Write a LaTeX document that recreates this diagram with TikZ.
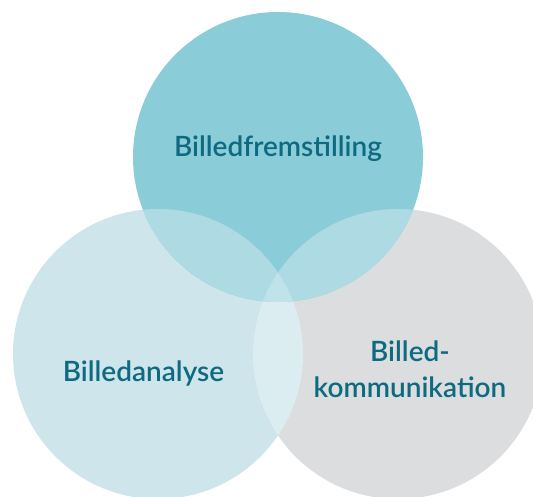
\documentclass[tikz,border=0pt]{standalone}
\usepackage{fontspec}
\setmainfont{Lato}
\newfontfamily\latosb{Lato Semibold}
\definecolor{ctop}{HTML}{8BCCD9}
\definecolor{cleft}{HTML}{CDE5EB}
\definecolor{cright}{HTML}{DCDDDF}
\definecolor{ctl}{HTML}{ADDAE3}
\definecolor{clr}{HTML}{DCEDF1}
\definecolor{cmid}{HTML}{C0E2E9}
\definecolor{ctxt}{HTML}{0E6A80}
\tikzset{lbl/.style={text=ctxt,font=\latosb\fontsize{28}{35.5}\selectfont,align=center,inner sep=0pt}}
\begin{document}
\begin{tikzpicture}[x=1pt,y=-1pt]
\useasboundingbox (0,0) rectangle (533,497);
\clip (0,0) rectangle (533,497);
\coordinate (T) at (278,157);
\coordinate (L) at (158,354);
\coordinate (R) at (398,354);
\def\rr{145}
\fill[cleft] (L) circle[radius=\rr];
\fill[cright] (R) circle[radius=\rr];
\fill[ctop] (T) circle[radius=\rr];
\begin{scope}
\clip (L) circle[radius=\rr];
\fill[clr] (R) circle[radius=\rr];
\end{scope}
\begin{scope}
\clip (T) circle[radius=\rr];
\fill[ctl] (L) circle[radius=\rr];
\fill[ctl] (R) circle[radius=\rr];
\clip (L) circle[radius=\rr];
\fill[cmid] (R) circle[radius=\rr];
\end{scope}
\node[lbl,anchor=base] (t1) at (278,156.5) {Billedfremstilling};
\node[lbl,anchor=base] (t2) at (143.5,381) {Billedanalyse};
\node[lbl,anchor=base] (t3) at (410,397) {Billed-\\kommunikation};
\end{tikzpicture}
\end{document}
